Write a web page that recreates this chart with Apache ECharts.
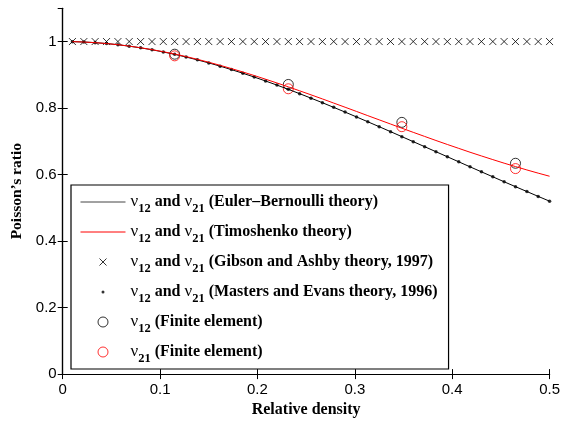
<!DOCTYPE html>
<html>
<head>
<meta charset="utf-8">
<script src="https://cdn.jsdelivr.net/npm/echarts@6/dist/echarts.min.js"></script>
<style>
html,body{margin:0;padding:0;background:#fff;}
#chart{width:563px;height:423px;}
</style>
</head>
<body>
<div id="chart"></div>
<script>
// Relative density grid (x values)
const density = [0.0100,0.0217,0.0333,0.0450,0.0567,0.0683,0.0800,0.0917,0.1033,0.1150,0.1267,0.1383,0.1500,0.1617,0.1733,0.1850,0.1967,0.2083,0.2200,0.2317,0.2433,0.2550,0.2667,0.2783,0.2900,0.3017,0.3133,0.3250,0.3367,0.3483,0.3600,0.3717,0.3833,0.3950,0.4067,0.4183,0.4300,0.4417,0.4533,0.4650,0.4767,0.4883,0.5000];
// Euler-Bernoulli theory
const eulerBernoulli = [0.9997,0.9986,0.9967,0.9940,0.9904,0.9861,0.9811,0.9753,0.9687,0.9615,0.9535,0.9450,0.9358,0.9260,0.9156,0.9047,0.8933,0.8814,0.8691,0.8563,0.8433,0.8298,0.8161,0.8021,0.7879,0.7734,0.7588,0.7440,0.7291,0.7141,0.6990,0.6839,0.6687,0.6536,0.6384,0.6233,0.6083,0.5933,0.5784,0.5636,0.5490,0.5344,0.5200];
// Timoshenko theory
const timoshenko = [0.9997,0.9986,0.9967,0.9940,0.9906,0.9863,0.9814,0.9757,0.9694,0.9624,0.9548,0.9466,0.9378,0.9285,0.9187,0.9085,0.8978,0.8868,0.8755,0.8638,0.8519,0.8398,0.8275,0.8150,0.8025,0.7899,0.7772,0.7646,0.7520,0.7394,0.7270,0.7147,0.7025,0.6905,0.6788,0.6672,0.6560,0.6450,0.6343,0.6240,0.6139,0.6043,0.5950];
// Gibson and Ashby theory, 1997
const gibsonAshby = [1,1,1,1,1,1,1,1,1,1,1,1,1,1,1,1,1,1,1,1,1,1,1,1,1,1,1,1,1,1,1,1,1,1,1,1,1,1,1,1,1,1,1];
// Masters and Evans theory, 1996
const mastersEvans = [0.9997,0.9986,0.9967,0.9940,0.9904,0.9861,0.9811,0.9753,0.9687,0.9615,0.9535,0.9450,0.9358,0.9260,0.9156,0.9047,0.8933,0.8814,0.8691,0.8563,0.8433,0.8298,0.8161,0.8021,0.7879,0.7734,0.7588,0.7440,0.7291,0.7141,0.6990,0.6839,0.6687,0.6536,0.6384,0.6233,0.6083,0.5933,0.5784,0.5636,0.5490,0.5344,0.5200];
// Finite element results
const feDensity = [0.1150,0.2317,0.3483,0.4650];
const feNu12 = [0.962,0.871,0.757,0.634];
const feNu21 = [0.957,0.858,0.744,0.618];
// Axis ticks
const xTicks = {min: 0, max: 0.5, interval: 0.1};
const yTicks = {min: 0, max: 1.1, interval: 0.2};
// Legend labels: [first subscript, second subscript, description]
const legendLabels = {
  EB: ['12','21','(Euler–Bernoulli theory)'],
  TS: ['12','21','(Timoshenko theory)'],
  GA: ['12','21','(Gibson and Ashby theory, 1997)'],
  ME: ['12','21','(Masters and Evans theory, 1996)'],
  FE12: ['12',null,'(Finite element)'],
  FE21: ['21',null,'(Finite element)']
};

const pair = (xs, ys) => xs.map((x, i) => [x, ys[i]]);

const chart = echarts.init(document.getElementById('chart'), null, {renderer: 'canvas'});
const tickFont = "'Liberation Sans', Arial, sans-serif";
const serif = "'Liberation Serif', 'Times New Roman', serif";
const crossPath = 'path://M0,0L10,10M10,0L0,10';
const crossIcon = 'path://M0,0M10,10M1.5,1.5L8.5,8.5M8.5,1.5L1.5,8.5';
const dotIcon = 'path://M0,0M10,10M3.5,5a1.5,1.5 0 1,0 3,0a1.5,1.5 0 1,0 -3,0';
const lineIcon = 'path://M0,0M45,10M0,5L45,5';

const axisCommon = {
  axisLine: {show: true, lineStyle: {color: '#000', width: 1.2}},
  axisTick: {show: true, inside: true, length: 5, lineStyle: {color: '#000', width: 1}},
  splitLine: {show: false}
};

const option = {
  animation: false,
  backgroundColor: '#fff',
  grid: {left: 62.7, right: 13, top: 8.3, bottom: 47.3, containLabel: false},
  xAxis: [
    Object.assign({
      type: 'value', position: 'bottom', min: xTicks.min, max: xTicks.max, interval: xTicks.interval,
      name: 'Relative density', nameLocation: 'middle', nameGap: 27,
      nameTextStyle: {fontFamily: serif, fontWeight: 'bold', fontSize: 16, color: '#000'},
      axisLabel: {color: '#000', fontFamily: tickFont, fontSize: 15, margin: 8}
    }, axisCommon),
    Object.assign({
      type: 'value', position: 'top', min: xTicks.min, max: xTicks.max, interval: xTicks.interval,
      axisLabel: {show: false}
    }, axisCommon)
  ],
  yAxis: [
    Object.assign({
      type: 'value', position: 'left', min: yTicks.min, max: yTicks.max, interval: yTicks.interval,
      name: 'Poisson’s ratio', nameLocation: 'middle', nameGap: 34, nameRotate: 90,
      nameTextStyle: {fontFamily: serif, fontWeight: 'bold', fontSize: 15.5, color: '#000'},
      axisLabel: {color: '#000', fontFamily: tickFont, fontSize: 15, margin: 6, showMaxLabel: false}
    }, axisCommon),
    Object.assign({
      type: 'value', position: 'right', min: yTicks.min, max: yTicks.max, interval: yTicks.interval,
      axisLabel: {show: false}
    }, axisCommon)
  ],
  legend: {
    orient: 'vertical', left: 71, top: 185,
    padding: [4, 11, 4, 9],
    itemWidth: 45, itemHeight: 10, itemGap: 4,
    borderColor: '#000', borderWidth: 1.2, backgroundColor: '#fff',
    selectedMode: false,
    symbolKeepAspect: true,
    data: [
      {name: 'EB', icon: lineIcon, itemStyle: {color: 'transparent', borderColor: '#444', borderWidth: 1}},
      {name: 'TS', icon: lineIcon, itemStyle: {color: 'transparent', borderColor: '#f00', borderWidth: 1}},
      {name: 'GA', icon: crossIcon, itemStyle: {color: 'transparent', borderColor: '#000', borderWidth: 1}},
      {name: 'ME', icon: dotIcon, itemStyle: {color: '#000', borderColor: '#000', borderWidth: 0}},
      {name: 'FE12', icon: 'circle', itemStyle: {color: 'transparent', borderColor: '#000', borderWidth: 1}},
      {name: 'FE21', icon: 'circle', itemStyle: {color: 'transparent', borderColor: '#f00', borderWidth: 1}}
    ],
    formatter: function (name) {
      const l = legendLabels[name];
      let s = '{g|ν}{s|' + l[0] + '}';
      if (l[1]) s += '{t| and }{g|ν}{s|' + l[1] + '}';
      s += '{t| ' + l[2] + '}';
      return s;
    },
    textStyle: {
      color: '#000', fontFamily: serif, fontWeight: 'bold', fontSize: 16, lineHeight: 26,
      rich: {
        g: {fontFamily: serif, fontWeight: 'normal', fontSize: 17, lineHeight: 26, color: '#000'},
        s: {fontFamily: serif, fontWeight: 'bold', fontSize: 12.5, lineHeight: 13, verticalAlign: 'bottom', color: '#000'},
        t: {fontFamily: serif, fontWeight: 'bold', fontSize: 16, lineHeight: 26, color: '#000'}
      }
    }
  },
  series: [
    {name: 'EB', type: 'line', data: pair(density, eulerBernoulli), symbol: 'none',
     lineStyle: {color: '#000', width: 1}, itemStyle: {color: '#000'}},
    {name: 'TS', type: 'line', data: pair(density, timoshenko), symbol: 'none',
     lineStyle: {color: '#f00', width: 1}, itemStyle: {color: '#f00'}},
    {name: 'GA', type: 'scatter', data: pair(density, gibsonAshby), symbol: crossPath, symbolSize: 7,
     itemStyle: {color: 'transparent', borderColor: '#000', borderWidth: 1}},
    {name: 'ME', type: 'scatter', data: pair(density, mastersEvans), symbol: 'circle', symbolSize: 3.5,
     itemStyle: {color: '#000'}},
    {name: 'FE12', type: 'scatter', data: pair(feDensity, feNu12), symbol: 'circle', symbolSize: 10,
     itemStyle: {color: 'transparent', borderColor: '#000', borderWidth: 1}},
    {name: 'FE21', type: 'scatter', data: pair(feDensity, feNu21), symbol: 'circle', symbolSize: 10,
     itemStyle: {color: 'transparent', borderColor: '#f00', borderWidth: 1}}
  ]
};
chart.setOption(option);
</script>
</body>
</html>
